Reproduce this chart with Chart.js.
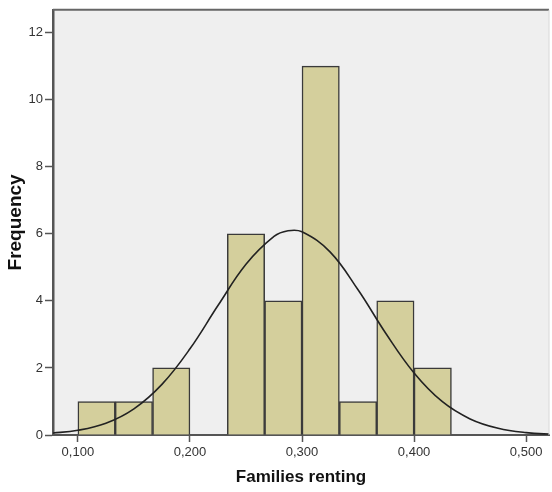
<!DOCTYPE html>
<html>
<head>
<meta charset="utf-8">
<script src="https://cdn.jsdelivr.net/npm/chart.js@4.4.1/dist/chart.umd.min.js"></script>
<style>
  html, body { margin: 0; padding: 0; background: #ffffff; }
  #wrap { width: 552px; height: 492px; }
</style>
</head>
<body>
<div id="wrap"><canvas id="histograma" width="552" height="492"></canvas></div>
<script>
// --- Dados do histograma ---
const binStart = [0.1, 0.13333, 0.16667, 0.2, 0.23333, 0.26667, 0.3, 0.33333, 0.36667, 0.4];
const binWidth = 0.033333;
const frequencias = [1, 1, 2, 0, 6, 4, 11, 1, 4, 2];

// curva normal ajustada
const curvaX = [0.075, 0.1, 0.125, 0.15, 0.175, 0.2, 0.225, 0.25, 0.275, 0.2875, 0.3, 0.325, 0.35, 0.375, 0.4, 0.425, 0.45, 0.475, 0.5, 0.525];
const curvaY = [0.05, 0.14, 0.35, 0.78, 1.51, 2.57, 3.86, 5.09, 5.92, 6.09, 6.06, 5.46, 4.33, 3.02, 1.85, 1.0, 0.48, 0.2, 0.07, 0.02];

const xTicks = [0.1, 0.2, 0.3, 0.4, 0.5];
const yTicks = [0, 2, 4, 6, 8, 10, 12];

const familia = 'Liberation Sans, Arial, sans-serif';
const fonteTicks = { family: familia, size: 13 };

// fundo cinza da área do gráfico + moldura superior/direita
const fundoArea = {
    id: 'fundoArea',
    beforeDraw(chart) {
        const { ctx, chartArea: a } = chart;
        ctx.save();
        ctx.fillStyle = '#efefef';
        ctx.fillRect(a.left, a.top, a.right - a.left, a.bottom - a.top);
        ctx.restore();
    },
    afterDraw(chart) {
        const { ctx, chartArea: a } = chart;
        ctx.save();
        ctx.strokeStyle = '#666';
        ctx.lineWidth = 2;
        ctx.beginPath();
        ctx.moveTo(a.left, a.top);
        ctx.lineTo(a.right, a.top);
        ctx.stroke();
        ctx.strokeStyle = '#d8d8d8';
        ctx.lineWidth = 1;
        ctx.beginPath();
        ctx.moveTo(a.right, a.top);
        ctx.lineTo(a.right, a.bottom);
        ctx.stroke();
        ctx.restore();
    }
};

const barras = binStart.map((s, i) => ({ x: s + binWidth / 2, y: frequencias[i] }));
const curva = curvaX.map((x, i) => ({ x, y: curvaY[i] }));

new Chart(document.getElementById('histograma'), {
    data: {
        datasets: [
            {
                type: 'line',
                data: curva,
                borderColor: '#222',
                borderWidth: 1.6,
                pointRadius: 0,
                tension: 0.4,
                order: 0
            },
            {
                type: 'bar',
                data: barras,
                backgroundColor: '#d4cf9c',
                borderColor: '#3a3a3a',
                borderWidth: 1.5,
                barPercentage: 1,
                categoryPercentage: 1,
                grouped: false,
                order: 1
            }
        ]
    },
    options: {
        responsive: false,
        animation: false,
        events: [],
        layout: { padding: { top: 6, right: 3, left: 0, bottom: 0 } },
        plugins: { legend: { display: false }, tooltip: { enabled: false } },
        scales: {
            x: {
                type: 'linear',
                offset: false,
                min: 0.0778,
                max: 0.5204,
                afterBuildTicks: (s) => { s.ticks = xTicks.map(v => ({ value: v })); },
                afterFit: (s) => { s.height = 57; },
                ticks: {
                    font: fonteTicks,
                    color: '#333',
                    padding: 3,
                    maxRotation: 0,
                    callback: (v) => Number(v).toFixed(3).replace('.', ',')
                },
                grid: { offset: false, drawOnChartArea: false, tickLength: 7, tickColor: '#555', tickWidth: 1.5 },
                border: { display: true, color: '#555', width: 2 },
                title: { display: true, text: 'Families renting', font: { family: familia, size: 17, weight: 'bold' }, color: '#111', padding: { top: 3 } }
            },
            y: {
                min: 0,
                max: 12.68,
                afterBuildTicks: (s) => { s.ticks = yTicks.map(v => ({ value: v })); },
                afterFit: (s) => { s.width = 53; },
                ticks: { font: fonteTicks, color: '#333', padding: 2 },
                grid: { drawOnChartArea: false, tickLength: 8, tickColor: '#555', tickWidth: 1.5 },
                border: { display: true, color: '#555', width: 2.5 },
                title: { display: true, text: 'Frequency', font: { family: familia, size: 19, weight: 'bold' }, color: '#111', padding: { top: 4, bottom: 0 } }
            }
        }
    },
    plugins: [fundoArea]
});
</script>
</body>
</html>
